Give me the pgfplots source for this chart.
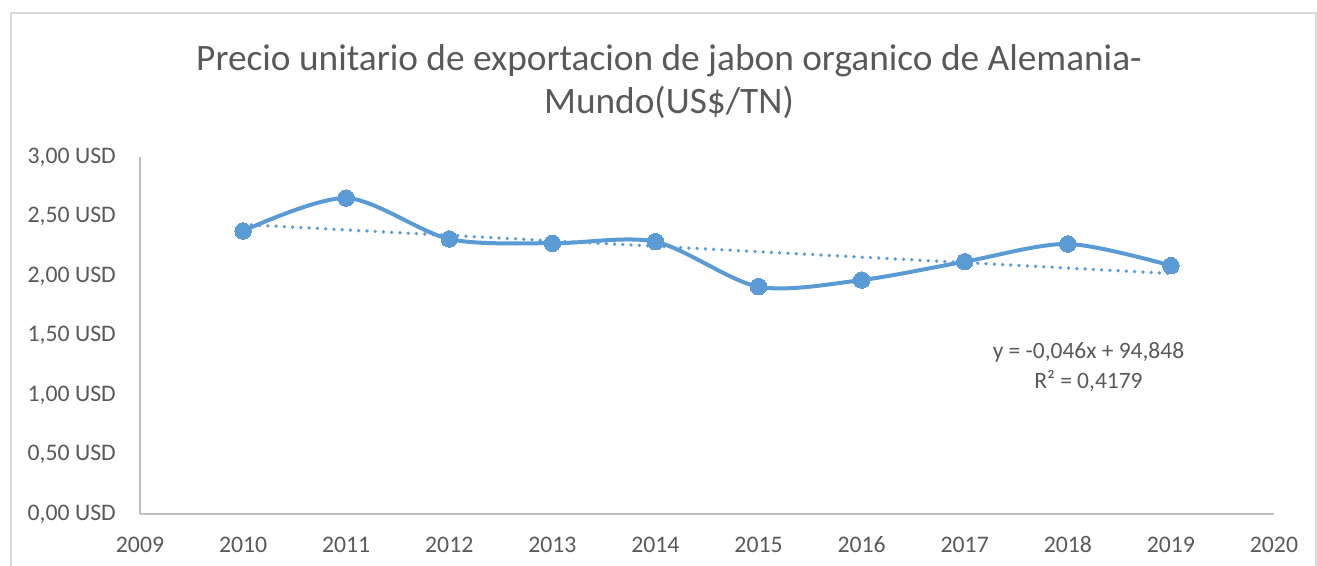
\documentclass[border=0pt]{standalone}
\usepackage{pgfplots}
\pgfplotsset{compat=1.18}
\usepackage{fontspec}
\setmainfont{Carlito}
\definecolor{txt}{HTML}{595959}
\definecolor{ser}{HTML}{5B9BD5}
\definecolor{axc}{HTML}{BFBFBF}
\definecolor{frm}{HTML}{D9D9D9}
\begin{document}
\begin{tikzpicture}
\begin{axis}[
  at={(0,0)}, anchor=south west,
  scale only axis,
  width=850.5pt, height=267.75pt,
  xmin=2009, xmax=2020, ymin=0, ymax=3,
  xtick={2009,2010,...,2020},
  ytick={0,0.5,...,3},
  axis x line*=bottom, axis y line*=left,
  axis line style={axc, line width=1.3pt, -},
  major tick length=0pt,
  tick style={draw=none},
  font=\fontsize{17.8}{21}\selectfont,
  ticklabel style={text=txt},
  /pgf/number format/assume math mode=true,
  xticklabel={\pgfmathprintnumber[fixed, set thousands separator={}]{\tick}},
  yticklabel={\pgfmathprintnumber[fixed, fixed zerofill, precision=2, use comma]{\tick} USD},
  xticklabel style={anchor=base, inner sep=0pt, yshift=-29.25pt},
  yticklabel style={anchor=east, inner sep=0pt, xshift=-18pt},
  clip=false,
]
\addplot[ser, line width=3pt, smooth, tension=0.5, mark=*, mark size=6.2pt, mark options={solid, fill=ser, draw=ser, line width=0pt}] coordinates {
(2010,2.378) (2011,2.655) (2012,2.311) (2013,2.275) (2014,2.288)
(2015,1.910) (2016,1.966) (2017,2.120) (2018,2.269) (2019,2.087)
};
\addplot[ser, line width=2.8pt, line cap=round, dash pattern=on 0pt off 6.2pt] coordinates {
(2010,2.433) (2019,2.021)
};
\node[txt, align=center, font=\fontsize{17.6}{22.5}\selectfont] at (axis cs:2018.2,1.235) {y = -0,046x + 94,848\\R² = 0,4179};
\end{axis}
\draw[frm, line width=1pt] (-96.75pt,-60pt) -- (-96.75pt,375.75pt) -- (882pt,375.75pt) -- (882pt,-60pt);
\node[txt, align=center, font=\fontsize{28}{32.25}\selectfont] at (396.75pt,56.6pt+267.75pt) {Precio unitario de exportacion de jabon organico de Alemania-\\Mundo(US\$/TN)};
\pgfresetboundingbox
\useasboundingbox (-105pt,-39pt) rectangle (882.75pt,385.5pt);
\end{tikzpicture}
\end{document}
